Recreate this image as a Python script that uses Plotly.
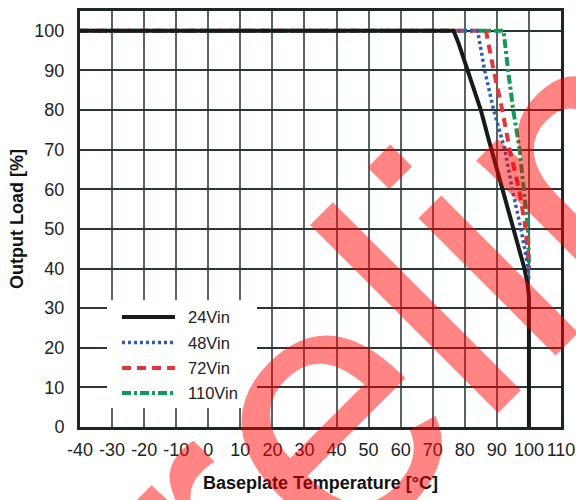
import plotly.graph_objects as go

# ---------------- data ----------------
temp_24 = [-40, 76.5, 78.0, 79.5, 81.0, 83.0, 85.0, 87.3, 89.0, 91.8, 95.3, 98.6, 99.6, 100, 100]
load_24 = [100, 100, 97, 93.5, 90, 85, 80, 73, 68, 60, 50, 40, 36, 33, 0]

temp_48 = [-40, 84, 86.2, 89.0, 92.5, 94.8, 97.5, 99.8, 100]
load_48 = [100, 100, 90, 80, 70, 60, 50, 40, 37]

temp_72 = [-40, 86.6, 89.0, 91.7, 94.0, 96.9, 99.0, 100, 100]
load_72 = [100, 100, 90, 80, 70, 60, 50, 42, 40]

temp_110 = [-40, 92.1, 93.5, 95.1, 97.1, 98.5, 99.7, 100, 100]
load_110 = [100, 100, 90, 80, 70, 60, 50, 42, 40]

series_names = ["24Vin", "48Vin", "72Vin", "110Vin"]
series_colors = ["#161a1a", "#2a5cb8", "#e8333a", "#119a55"]
series_dash = ["solid", "3px,3px", "9px,6px", "9px,3px,3px,3px"]
series_width = [4, 3.5, 4, 4]

x_ticks = list(range(-40, 111, 10))
y_ticks = list(range(0, 101, 10))

watermark_text = "Preliminary"

# ---------------- layout geometry (pixels) ----------------
W, H = 576, 500
ML, MR, MT, MB = 80, 15, 11, 73
PW = W - ML - MR
PH = H - MT - MB


def px_x(px):
    return (px - ML) / PW


def px_y(py):
    return (H - MB - py) / PH


FONT = "Liberation Sans, Arial, Helvetica, sans-serif"

fig = go.Figure()

data = [(temp_24, load_24), (temp_48, load_48), (temp_72, load_72), (temp_110, load_110)]
for i in [3, 2, 1, 0]:
    xs, ys = data[i]
    fig.add_trace(go.Scatter(
        x=xs, y=ys, mode="lines", name=series_names[i],
        line=dict(color=series_colors[i], width=series_width[i], dash=series_dash[i]),
        showlegend=False, hoverinfo="skip",
    ))

# ---------------- manual legend ----------------
shapes = [dict(type="rect", xref="paper", yref="paper",
               x0=px_x(107), x1=px_x(257), y0=px_y(408), y1=px_y(300),
               fillcolor="white", line=dict(width=0), layer="above")]
annotations = []
row_y = [317, 342.5, 368, 393]
for i, name in enumerate(series_names):
    shapes.append(dict(type="line", xref="paper", yref="paper",
                       x0=px_x(122), x1=px_x(175), y0=px_y(row_y[i]), y1=px_y(row_y[i]),
                       line=dict(color=series_colors[i], width=series_width[i], dash=series_dash[i]),
                       layer="above"))
    annotations.append(dict(xref="paper", yref="paper", x=px_x(186), y=px_y(row_y[i]),
                            text=name, showarrow=False, xanchor="left", yanchor="middle",
                            font=dict(family=FONT, size=16.5, color="#222")))

# ---------------- watermark ----------------
annotations.append(dict(xref="paper", yref="paper", x=1.158, y=0.795,
                        text=watermark_text, showarrow=False, textangle=-45,
                        xanchor="center", yanchor="middle",
                        font=dict(family=FONT, size=367, color="rgba(255,0,0,0.48)")))

fig.update_layout(
    width=W, height=H,
    margin=dict(l=ML, r=MR, t=MT, b=MB, pad=0, autoexpand=False),
    paper_bgcolor="white", plot_bgcolor="white",
    shapes=shapes, annotations=annotations,
    showlegend=False,
)

fig.update_xaxes(
    range=[-40, 110], tickvals=x_ticks, ticktext=[str(v) for v in x_ticks],
    showgrid=True, gridcolor="#5a6363", gridwidth=1.6,
    showline=True, linecolor="#1c2626", linewidth=3, mirror=True,
    zeroline=False, ticks="", ticklabelstandoff=4, automargin=False,
    tickfont=dict(family=FONT, size=18, color="#222"),
    title=dict(text="Baseplate Temperature [°C]", standoff=18,
               font=dict(family=FONT, size=18, color="#111", weight="bold")),
)
fig.update_yaxes(
    range=[0, 105], tickvals=y_ticks, ticktext=[str(v) for v in y_ticks],
    showgrid=True, gridcolor="#2b3535", gridwidth=1.5,
    showline=True, linecolor="#1c2626", linewidth=3, mirror=True,
    zeroline=False, ticks="", ticklabelstandoff=9, automargin=False,
    tickfont=dict(family=FONT, size=18, color="#222"),
    title=dict(text="Output Load [%]", standoff=7,
               font=dict(family=FONT, size=18, color="#111", weight="bold")),
)

fig.write_html("out.html")
